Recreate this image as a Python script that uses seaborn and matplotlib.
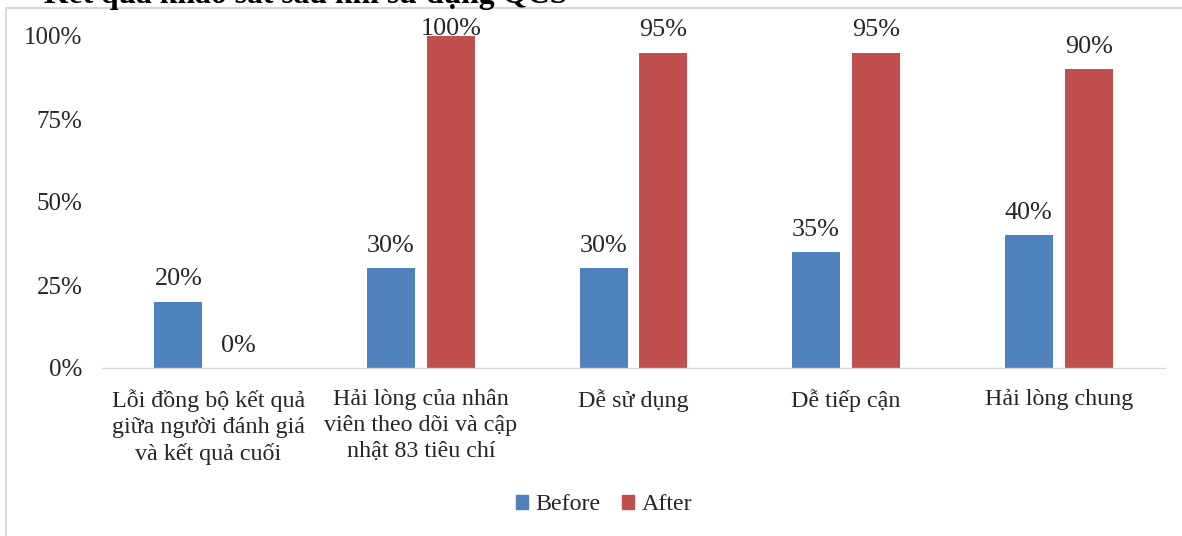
import matplotlib
matplotlib.use("Agg")
import matplotlib.pyplot as plt
import seaborn as sns
import pandas as pd
from matplotlib.patches import Rectangle

categories = [
    "Lỗi đồng bộ kết quả\ngiữa người đánh giá\nvà kết quả cuối",
    "Hải lòng của nhân\nviên theo dõi và cập\nnhật 83 tiêu chí",
    "Dễ sử dụng",
    "Dễ tiếp cận",
    "Hải lòng chung",
]
before = [20, 30, 30, 35, 40]
after = [0, 100, 95, 95, 90]
series = ["Before", "After"]
colors = ["#4F81BD", "#C0504D"]
title = "Kết quả khảo sát sau khi sử dụng QCS"

df = pd.DataFrame({
    "category": categories * 2,
    "value": before + after,
    "series": [series[0]] * len(categories) + [series[1]] * len(categories),
})

sns.set_theme(style="white")
plt.rcParams["font.family"] = ["Liberation Serif", "DejaVu Serif"]

FS = 17.3
fig = plt.figure(figsize=(11.82, 5.36), dpi=100)
ax = fig.add_axes([102 / 1182, 168 / 536, 1063 / 1182, 332 / 536])

sns.barplot(data=df, x="category", y="value", hue="series", order=categories,
            hue_order=series, palette=colors, width=0.564, gap=0.2,
            saturation=1, edgecolor="none", linewidth=0, ax=ax, legend=False)

for cont in ax.containers:
    anns = ax.bar_label(cont, labels=[f"{v:.0f}%" for v in cont.datavalues],
                        padding=8, fontsize=18.8, color="#262626")
    # a label on a full-height bar is kept inside the plot area
    for ann, v in zip(anns, cont.datavalues):
        if v >= 100:
            ann.xyann = (0, -3)

ax.set_ylim(0, 100)
ax.set_xlim(-0.5, len(categories) - 0.5)
ax.set_yticks([0, 25, 50, 75, 100])
ax.set_yticklabels([f"{t}%" for t in [0, 25, 50, 75, 100]])
ax.set_xlabel("")
ax.set_ylabel("")
ax.tick_params(axis="both", length=0, colors="#262626")
ax.tick_params(axis="y", pad=14, labelsize=18)
ax.tick_params(axis="x", pad=15, labelsize=FS)
for lbl in ax.get_xticklabels():
    lbl.set_linespacing(1.3)
for side in ["left", "right", "top"]:
    ax.spines[side].set_visible(False)
ax.spines["bottom"].set_color("#d9d9d9")
ax.spines["bottom"].set_linewidth(1)
ax.set_facecolor("none")

handles = [Rectangle((0, 0), 1, 1, color=c) for c in colors]
fig.legend(handles, series, loc="center", bbox_to_anchor=(604 / 1182, 31 / 536),
           ncol=2, frameon=False, fontsize=FS, handlelength=0.5,
           handleheight=0.5, handletextpad=0.3, columnspacing=0.9)

# chart frame
fig.patches.append(Rectangle((6 / 1182, -0.1), 1.2, 0.1 + 528 / 536,
                             transform=fig.transFigure, fill=False,
                             edgecolor="#d9d9d9", linewidth=1.5, zorder=0))

fig.text(44 / 1182, 1 - 3 / 536, title, ha="left", va="baseline",
         fontsize=22.8, fontweight="bold", color="black")

fig.savefig("out.png", dpi=100)
